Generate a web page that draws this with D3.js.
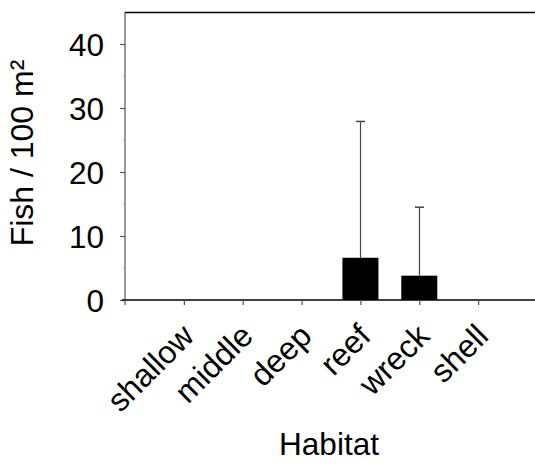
<!DOCTYPE html>
<html><head><meta charset="utf-8">
<script src="https://cdn.jsdelivr.net/npm/d3@7"></script>
<style>
html,body{margin:0;padding:0;background:#fff;}
svg{display:block;font-family:"Liberation Sans",Arial,sans-serif;}
</style></head>
<body>
<svg id="chart" width="535" height="464"></svg>
<script>
const categories = ["shallow","middle","deep","reef","wreck","shell"];
const means = [0, 0, 0, 6.6, 3.8, 0];
const errors = [0, 0, 0, 21.3, 10.7, 0];
const yTicks = [0, 10, 20, 30, 40];
const yMinorTicks = [5, 15, 25, 35];
const yTitle = "Fish / 100 m²";
const xTitle = "Habitat";

const svg = d3.select("#chart");
const plotLeft = 125, plotRight = 537, plotTop = 12, plotBottom = 300;

const x = d3.scalePoint().domain(categories).range([plotLeft, plotRight]).padding(1);
const y = d3.scaleLinear().domain([0, 45]).range([plotBottom, plotTop]);

const barW = 36;
const fontFam = "Liberation Sans, Arial, sans-serif";

// top frame line
svg.append("line").attr("x1", plotLeft).attr("x2", 535).attr("y1", plotTop + 0.5).attr("y2", plotTop + 0.5)
  .attr("stroke", "#000").attr("stroke-width", 1.5);

// y axis
const yAxis = svg.append("g").attr("transform", `translate(${plotLeft},0)`)
  .call(d3.axisLeft(y).tickValues(yTicks).tickSize(5).tickPadding(16));
yAxis.select(".domain").attr("stroke", "#555").attr("stroke-width", 1.2).attr("d", `M0,${plotTop}V${plotBottom}`);
yAxis.selectAll(".tick line").attr("stroke", "#555").attr("stroke-width", 1.2);
yAxis.selectAll(".tick text").attr("font-size", 31.5).attr("fill", "#000")
  .attr("font-family", fontFam).attr("dy", "0.36em");

// minor ticks
svg.append("g").selectAll("line").data(yMinorTicks).join("line")
  .attr("x1", plotLeft - 2).attr("x2", plotLeft).attr("y1", d => y(d)).attr("y2", d => y(d))
  .attr("stroke", "#999").attr("stroke-width", 1);

// bars
svg.append("g").selectAll("rect").data(categories).join("rect")
  .attr("x", d => x(d) - barW / 2)
  .attr("y", (d, i) => y(means[i]))
  .attr("width", barW)
  .attr("height", (d, i) => plotBottom - y(means[i]))
  .attr("fill", "#000");

// error bars
const eb = svg.append("g");
categories.forEach((c, i) => {
  if (errors[i] <= 0) return;
  const cx = Math.round(x(c)) + 0.5;
  eb.append("line").attr("x1", cx).attr("x2", cx)
    .attr("y1", y(means[i])).attr("y2", y(means[i] + errors[i]))
    .attr("stroke", "#444").attr("stroke-width", 1.2);
  eb.append("line").attr("x1", cx - 4.5).attr("x2", cx + 4.5)
    .attr("y1", y(means[i] + errors[i])).attr("y2", y(means[i] + errors[i]))
    .attr("stroke", "#444").attr("stroke-width", 1.5);
});

// x axis
const xAxis = svg.append("g").attr("transform", `translate(0,${plotBottom})`)
  .call(d3.axisBottom(x).tickSize(5).tickFormat(""));
xAxis.select(".domain").attr("d", `M122,0H535`).attr("stroke", "#000").attr("stroke-width", 1.5);
xAxis.selectAll(".tick line").attr("stroke", "#555").attr("stroke-width", 1.2);
xAxis.append("line").attr("x1", plotLeft).attr("x2", plotLeft).attr("y1", 0).attr("y2", 5)
  .attr("stroke", "#555").attr("stroke-width", 1.2);

// x tick labels
svg.append("g").selectAll("text").data(categories).join("text")
  .attr("transform", d => `translate(${x(d) + 12},${plotBottom + 38}) rotate(-45)`)
  .attr("text-anchor", "end")
  .attr("font-size", 32)
  .attr("font-family", fontFam)
  .attr("fill", "#000")
  .text(d => d);

// axis titles
svg.append("text").attr("x", (plotLeft + 535) / 2 - 1).attr("y", 455)
  .attr("text-anchor", "middle").attr("font-size", 31.5).attr("font-family", fontFam).text(xTitle);
svg.append("text").attr("transform", `translate(33,153) rotate(-90)`)
  .attr("text-anchor", "middle").attr("font-size", 32).attr("font-family", fontFam).text(yTitle);
</script>
</body></html>
